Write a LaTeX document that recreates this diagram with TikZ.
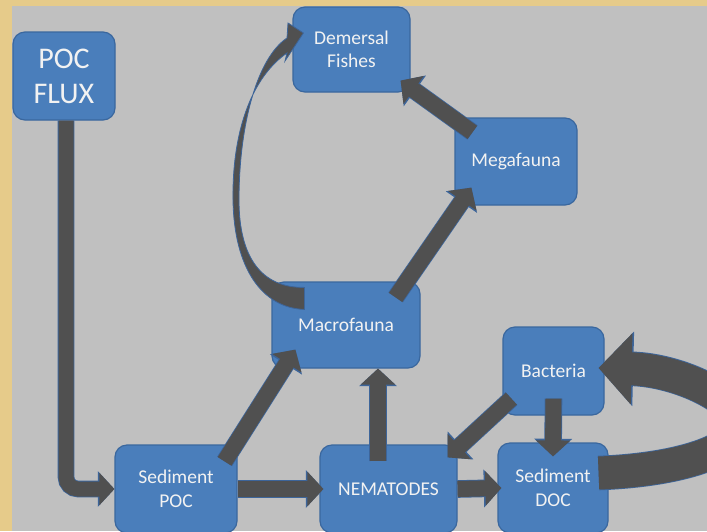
\documentclass[tikz,border=0pt]{standalone}
\usepackage{fontspec}
\setmainfont{Carlito}
\usetikzlibrary{arrows.meta,calc}
\definecolor{paper}{HTML}{E6CB8A}
\definecolor{bggray}{HTML}{C0C0C0}
\definecolor{boxblue}{HTML}{4A7EBB}
\definecolor{boxedge}{HTML}{3A679E}
\definecolor{arrowgray}{HTML}{505050}
\definecolor{arrowedge}{HTML}{3D659A}
\definecolor{txt}{HTML}{F2F2F2}
\begin{document}
\begin{tikzpicture}[x=1pt,y=-1pt,
  box/.style={draw=boxedge, line width=1.2pt, fill=boxblue, rounded corners=12pt,
    text=txt, align=center, inner sep=0pt, font=\fontsize{19.5}{23.5}\selectfont},
  blk/.style={draw=arrowgray, line width=#1, -{Triangle[length=0pt 1, width=0pt 2.1]},
    preaction={draw=arrowedge, line width=#1+1.6pt, -{Triangle[length=0pt 1, width=0pt 2.1]}}},
  blk/.default=16pt,
  curvarrow/.style={fill=arrowgray, draw=arrowedge, line width=0.8pt}]
\useasboundingbox (0,0) rectangle (707,531);
\clip (0,0) rectangle (707,531);
\fill[paper] (0,0) rectangle (707,531);
\fill[bggray] (12,6) rectangle (707,531);

\node[box, minimum width=102pt, minimum height=88pt, font=\fontsize{30}{35}\selectfont] (poc) at (64,76) {POC\\FLUX};
\node[box, minimum width=117pt, minimum height=85pt] (fish) at (351.5,49.5) {Demersal\\Fishes};
\node[box, minimum width=122pt, minimum height=87pt] (mega) at (516,161.5) {Megafauna};
\node[box, minimum width=148pt, minimum height=86pt] (macro) at (346,325) {Macrofauna};
\node[box, minimum width=101pt, minimum height=88pt] (bact) at (553.5,371) {Bacteria};
\node[box, minimum width=122pt, minimum height=88pt] (spoc) at (176,489) {Sediment\\POC};
\node[box, minimum width=137pt, minimum height=88pt] (nema) at (388.5,489) {NEMATODES};
\node[box, minimum width=110pt, minimum height=90pt] (sdoc) at (553,488) {Sediment\\DOC};

\draw[blk=15pt, rounded corners=12pt] ([shift={(2,0)}]poc.south) |- (spoc.west);
\draw[blk] (spoc.east) -- ([shift={(4,0)}]nema.west);
\draw[blk] ([shift={(-13,17)}]spoc.north east) -- ([shift={(24,-19)}]macro.south west);
\draw[blk] ([shift={(-10.5,17)}]nema.north) -- ([shift={(32,0)}]macro.south);
\draw[blk] (nema.east) -- ([shift={(4,0)}]sdoc.west);
\draw[blk] ([shift={(9,-17)}]bact.south west) -- ([shift={(-10,13)}]nema.north east);
\draw[blk] ([shift={(0,-17)}]bact.south) -- ([shift={(0,14)}]sdoc.north);
\draw[blk] ([shift={(-25,16)}]macro.north east) -- ([shift={(17,-18)}]mega.south west);
\draw[blk] ([shift={(18,15)}]mega.north west) -- ([shift={(-10,-12)}]fish.south east);
\draw[blk=33pt] ([shift={(-10,-15)}]sdoc.east) .. controls (680,470) and (740,450) .. (740,424)
  .. controls (740,400) and (680,370) .. ([shift={(-6,-3)}]bact.east);
\filldraw[curvarrow] ([shift={(33,28)}]macro.north west) .. controls (262,308) and (234,268) .. (233,200)
  .. controls (232,125) and (255,75) .. (287,53) -- (285,61) -- ([shift={(11,-16.5)}]fish.west)
  -- (288,23) -- (287,38) .. controls (257,58) and (239,125) .. (239,200)
  .. controls (239,258) and (262,288) .. ([shift={(33,6)}]macro.north west) -- cycle;
\end{tikzpicture}
\end{document}
